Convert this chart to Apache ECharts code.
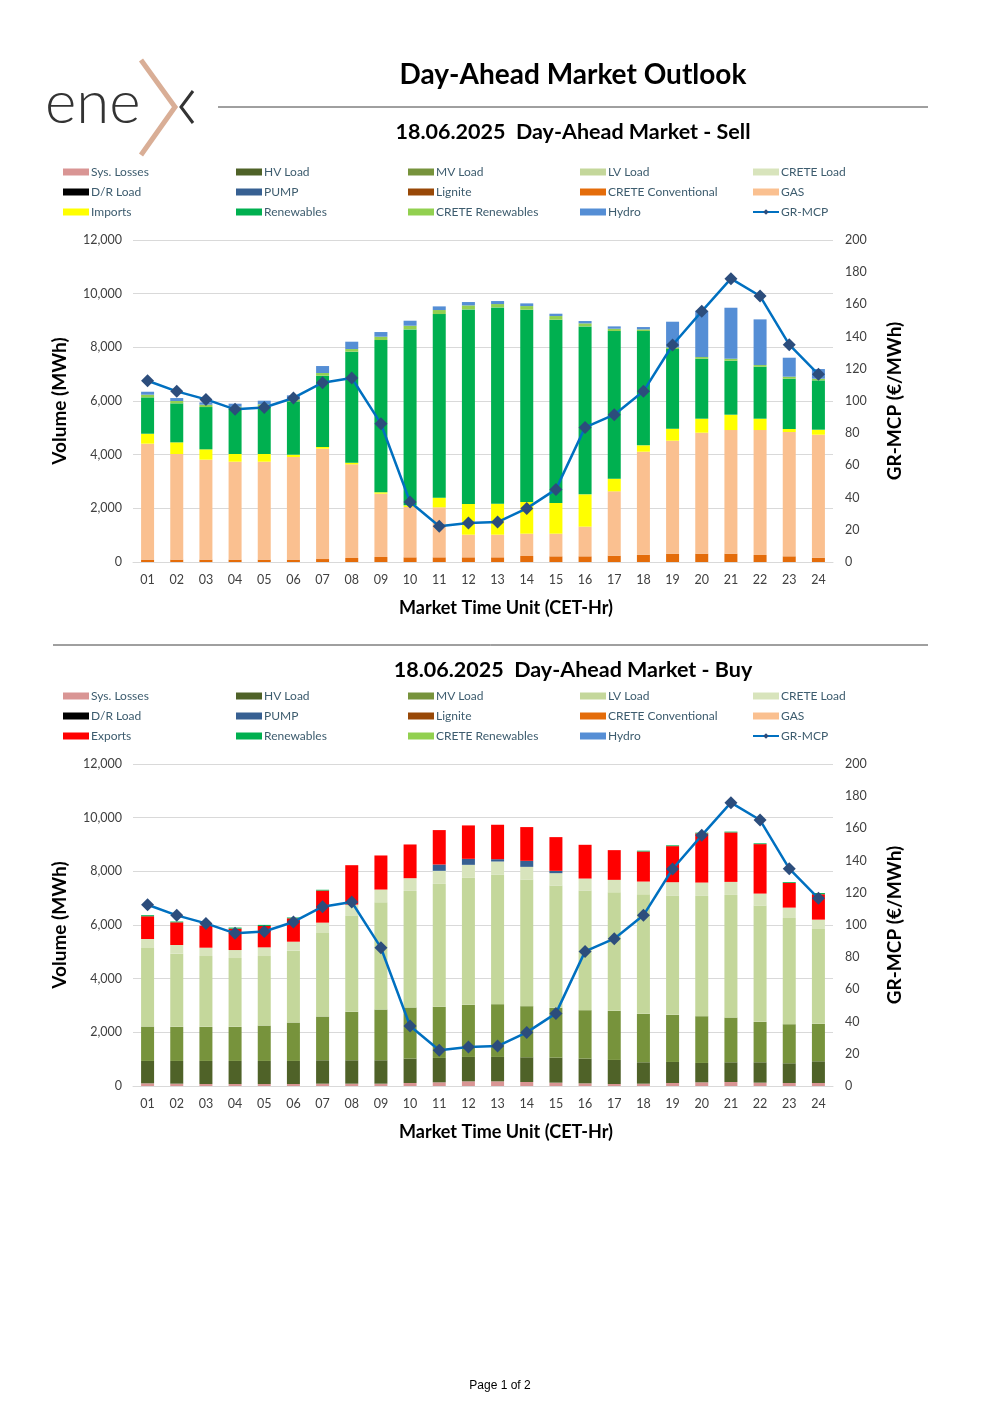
<!DOCTYPE html>
<html>
<head>
<meta charset="utf-8">
<script src="https://cdn.jsdelivr.net/npm/echarts@6/dist/echarts.min.js"></script>
<style>
html,body{margin:0;padding:0;background:#fff;}
#main{width:1000px;height:1415px;}
</style>
</head>
<body>
<div id="main"></div>
<script>
// ---------- DATA ----------
const hours = ['01','02','03','04','05','06','07','08','09','10','11','12','13','14','15','16','17','18','19','20','21','22','23','24'];
const leftTicks = [0, 2000, 12000];   // left axis min / interval / max
const rightTicks = [0, 20, 200];      // right axis min / interval / max

// GR-MCP (€/MWh)
const grMcp = [112.6,106,101,94.8,96,101.9,111.4,114.3,85.9,37.3,22.2,24.2,24.8,33.3,45.1,83.6,91.5,106,134.8,155.7,176,165.2,135,116.6];

// Sell side (MWh)
const sellCreteConv = [90,90,90,90,90,90,110,150,186,174,174,174,174,224,211,211,236,273,310,310,310,261,211,161];
const sellGas = [4320,3934,3723,3648,3648,3822,4113,3489,2360,1875,1863,844,844,832,845,1106,2397,3838,4211,4509,4608,4657,4633,4583];
const sellImports = [370,435,385,286,286,87,62,62,50,62,360,1143,1156,1180,1142,1204,472,236,447,522,572,423,112,187];
const sellRenewables = [1355,1453,1577,1702,1764,1987,2658,4136,5676,6558,6843,7253,7315,7166,6831,6260,5502,4260,2968,2235,2012,1937,1875,1838];
const sellCreteRen = [100,88,87,62,87,75,99,99,124,137,150,149,124,136,137,112,87,62,62,62,74,62,75,62];
const sellHydro = [110,110,88,112,136,150,261,274,174,186,136,125,112,100,87,87,87,87,957,1722,1900,1702,707,360];

// Buy side (MWh)
const buySysLosses = [100,87,75,75,75,75,87,87,87,112,137,174,174,149,125,100,75,87,112,137,149,125,112,112];
const buyHV = [834,847,859,859,859,859,872,872,872,909,909,909,909,922,933,921,896,797,784,722,735,759,735,809];
const buyMV = [1282,1270,1270,1270,1319,1432,1631,1805,1892,1905,1905,1942,1967,1905,1855,1805,1830,1805,1756,1743,1668,1506,1456,1395];
const buyLV = [2926,2726,2639,2564,2590,2676,3112,3573,3997,4345,4581,4731,4831,4718,4557,4457,4420,4457,4432,4482,4569,4333,3959,3536];
const buyCreteLoad = [336,324,311,299,324,336,386,423,473,473,486,486,485,473,461,448,461,473,511,498,486,448,386,348];
const buyPump = [0,0,0,0,0,0,0,0,0,0,236,224,87,224,87,0,0,0,0,0,0,0,0,0];
const buyExports = [847,846,822,797,797,872,1195,1469,1270,1257,1283,1245,1283,1258,1257,1258,1108,1121,1344,1830,1843,1843,922,946];
const buyRenewables = [40,30,0,40,40,30,30,0,0,0,0,0,0,0,0,0,0,30,30,30,30,30,30,45];

// ---------- STYLE ----------
const C = {
  'Sys. Losses':'#D99594','HV Load':'#4F6228','MV Load':'#77933C','LV Load':'#C4D79B',
  'CRETE Load':'#D8E4BC','D/R Load':'#000000','PUMP':'#376092','Lignite':'#984807',
  'CRETE Conventional':'#E46C0A','GAS':'#FAC090','Imports':'#FFFF00','Exports':'#FF0000',
  'Renewables':'#00B050','CRETE Renewables':'#92D050','Hydro':'#558ED5'
};
const FONT = 'Lato, "Open Sans", sans-serif';
const gridTops = [240, 764];

function barSeries(name, data, idx){
  return {
    name: name, type:'bar', stack: 'st'+idx, xAxisIndex: idx, yAxisIndex: idx*2,
    data: data, barWidth: 13, itemStyle:{color: C[name]}, emphasis:{disabled:true}, z:2
  };
}
function lineSeries(idx){
  return {
    name:'GR-MCP', type:'line', xAxisIndex: idx, yAxisIndex: idx*2+1, data: grMcp,
    symbol:'diamond', symbolSize:13, lineStyle:{color:'#0070C0', width:2.5},
    itemStyle:{color:'#2C4D7C'}, z:5, emphasis:{disabled:true}
  };
}
function legends(third, topY){
  const cols = [
    ['Sys. Losses','D/R Load', third],
    ['HV Load','PUMP','Renewables'],
    ['MV Load','Lignite','CRETE Renewables'],
    ['LV Load','CRETE Conventional','Hydro'],
    ['CRETE Load','GAS','GR-MCP']
  ];
  const xs = [63, 236, 408, 580, 752];
  return cols.map((names, i) => ({
    orient:'vertical', left: xs[i], top: topY - 7, itemWidth: 26, itemHeight: 7, itemGap: 6,
    selectedMode:false, padding:0,
    textStyle:{fontFamily:FONT, fontSize:12, color:'#3D5C6E', lineHeight:14, padding:[0,0,0,-3]},
    data: names.map(n => n === 'GR-MCP' ? {name:n} : {name:n, icon:'rect'})
  }));
}
function axesFor(idx){
  const y = [
    {type:'value', gridIndex: idx, min:leftTicks[0], interval:leftTicks[1], max:leftTicks[2],
     name:'Volume (MWh)', nameLocation:'middle', nameGap:64,
     nameTextStyle:{fontFamily:FONT, fontSize:19, fontWeight:'bold', color:'#000'},
     axisLabel:{fontFamily:FONT, fontSize:12.5, color:'#404040', margin:11,
       formatter: v => v.toLocaleString('en-US')},
     splitLine:{lineStyle:{color:'#D9D9D9', width:1}}, axisLine:{show:false}, axisTick:{show:false}},
    {type:'value', gridIndex: idx, min:rightTicks[0], interval:rightTicks[1], max:rightTicks[2],
     name:'GR-MCP (€/MWh)', nameLocation:'middle', nameGap:52, nameRotate:90,
     nameTextStyle:{fontFamily:FONT, fontSize:19, fontWeight:'bold', color:'#000'},
     axisLabel:{fontFamily:FONT, fontSize:12.5, color:'#404040', margin:12},
     splitLine:{show:false}, axisLine:{show:false}, axisTick:{show:false}}
  ];
  const x = {type:'category', gridIndex: idx, data: hours,
     name:'Market Time Unit (CET-Hr)', nameLocation:'middle', nameGap:37,
     nameTextStyle:{fontFamily:FONT, fontSize:18, fontWeight:'bold', color:'#000', padding:[0,0,0,46]},
     axisLabel:{fontFamily:FONT, fontSize:12.5, color:'#404040', margin:11, interval:0},
     axisTick:{show:false}, axisLine:{lineStyle:{color:'#D9D9D9'}}};
  return {x, y};
}

const a0 = axesFor(0), a1 = axesFor(1);

const sellSeries = [
  barSeries('Sys. Losses', [], 0), barSeries('HV Load', [], 0), barSeries('MV Load', [], 0),
  barSeries('LV Load', [], 0), barSeries('CRETE Load', [], 0), barSeries('D/R Load', [], 0),
  barSeries('PUMP', [], 0), barSeries('Lignite', [], 0),
  barSeries('CRETE Conventional', sellCreteConv, 0), barSeries('GAS', sellGas, 0),
  barSeries('Imports', sellImports, 0), barSeries('Renewables', sellRenewables, 0),
  barSeries('CRETE Renewables', sellCreteRen, 0), barSeries('Hydro', sellHydro, 0),
  lineSeries(0)
];
const buySeries = [
  barSeries('Sys. Losses', buySysLosses, 1), barSeries('HV Load', buyHV, 1), barSeries('MV Load', buyMV, 1),
  barSeries('LV Load', buyLV, 1), barSeries('CRETE Load', buyCreteLoad, 1), barSeries('D/R Load', [], 1),
  barSeries('PUMP', buyPump, 1), barSeries('Lignite', [], 1),
  barSeries('CRETE Conventional', [], 1), barSeries('GAS', [], 1),
  barSeries('Exports', buyExports, 1), barSeries('Renewables', buyRenewables, 1),
  barSeries('CRETE Renewables', [], 1), barSeries('Hydro', [], 1),
  lineSeries(1)
];

const titleStyle = (size) => ({fontFamily:FONT, fontSize:size, fontWeight:'bold', color:'#000'});

const option = {
  backgroundColor:'#fff',
  animation:false,
  title:[
    {text:'Day-Ahead Market Outlook', left:573, top:61, textAlign:'center', textStyle:titleStyle(28), padding:0},
    {text:'18.06.2025  Day-Ahead Market - Sell', left:573, top:121, textAlign:'center', textStyle:titleStyle(21.5), padding:0},
    {text:'18.06.2025  Day-Ahead Market - Buy', left:573, top:659, textAlign:'center', textStyle:titleStyle(21.5), padding:0},
    {text:'Page 1 of 2', left:500, top:1380, textAlign:'center', padding:0,
     textStyle:{fontFamily:'"Liberation Sans", Arial, sans-serif', fontSize:12, fontWeight:'normal', color:'#000'}}
  ],
  legend: legends('Imports', 172).concat(legends('Exports', 696)),
  grid:[
    {left:133, right:167, top:gridTops[0], height:322},
    {left:133, right:167, top:gridTops[1], height:322}
  ],
  xAxis:[a0.x, a1.x],
  yAxis:[a0.y[0], a0.y[1], a1.y[0], a1.y[1]],
  series: sellSeries.concat(buySeries),
  graphic:[
    {type:'line', shape:{x1:218, y1:107, x2:928, y2:107}, style:{stroke:'#404040', lineWidth:1}},
    {type:'line', shape:{x1:53, y1:645, x2:928, y2:645}, style:{stroke:'#404040', lineWidth:1}},
    // logo
    {type:'text', left:45, top:74, style:{text:'ene', font:'300 60px Lato, "Open Sans", sans-serif', fill:'#333333'}},
    {type:'polyline', shape:{points:[[141,60],[175,107],[141,155]]}, style:{stroke:'#D9AE96', lineWidth:5, fill:null}},
    {type:'polyline', shape:{points:[[193,91],[181,107],[193,123]]}, style:{stroke:'#333333', lineWidth:3, fill:null}}
  ]
};

const chart = echarts.init(document.getElementById('main'), null, {renderer:'canvas'});
chart.setOption(option);
</script>
</body>
</html>
